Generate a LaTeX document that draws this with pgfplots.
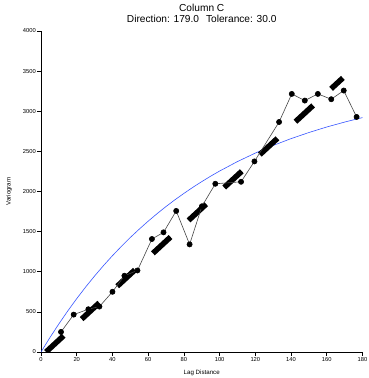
\documentclass[border=0pt]{standalone}
\usepackage{pgfplots}
\pgfplotsset{compat=1.18}
\usepackage{fontspec}
\setmainfont{Liberation Sans}
\definecolor{modelblue}{RGB}{55,85,255}
\definecolor{datagray}{RGB}{70,70,70}
\begin{document}
\begin{tikzpicture}
\begin{axis}[
  at={(41bp,26bp)}, anchor=south west,
  scale only axis, width=321.5bp, height=321bp,
  xmin=0, xmax=180, ymin=0, ymax=4000,
  axis x line=bottom, axis y line=left,
  axis line style={-, line width=0.7bp},
  tick align=outside, major tick length=4bp,
  tick style={line width=0.7bp, black},
  xtick={0,20,...,180}, ytick={0,500,...,4000},
  minor tick num=0,
  /pgf/number format/assume math mode=true,
  /pgf/number format/1000 sep={},
  tick label style={font=\fontsize{5.8}{6}\selectfont},
  yticklabel style={inner sep=1bp},
  xticklabel style={inner sep=1.5bp},
  xlabel={Lag Distance}, ylabel={Variogram},
  label style={font=\fontsize{6.2}{7}\selectfont},
  xlabel style={at={(axis description cs:0.5,-0.0654)}, anchor=center},
  ylabel style={at={(axis description cs:-0.0995,0.5)}, anchor=center},
  title={Column C\\Direction: 179.0\hspace{7bp}Tolerance: 30.0},
  title style={at={(axis description cs:0.5,1)}, anchor=south, align=center, inner sep=0pt, yshift=2.5bp, font=\fontsize{10.2}{11}\selectfont},
  clip=true,
]
% fitted model curve (blue)
\addplot[modelblue, line width=0.6bp] coordinates {
(0,0) (5,180) (10,350) (15,512) (20,665) (25,810) (30,947) (35,1077) (40,1200)
(45,1316) (50,1427) (55,1531) (60,1630) (65,1724) (70,1813) (75,1897) (80,1976)
(85,2052) (90,2123) (95,2191) (100,2255) (110,2373) (120,2479) (130,2574)
(140,2659) (150,2735) (160,2804) (170,2865) (180,2921)
};
% linear model (thick dashed)
\addplot[black, line width=5.5bp, dash pattern=on 24bp off 24.5bp, line cap=butt] coordinates {
(2.8,0) (169,3415)
};
% experimental variogram
\addplot[datagray, line width=0.6bp, mark=*, mark size=2.6bp, mark options={fill=black, draw=black, solid}] coordinates {
(11.2,250) (18.3,466) (26.5,533) (32.7,566) (40,750) (46.7,950) (54,1016)
(62.1,1408) (68.6,1491) (75.7,1758) (83.2,1341) (90.1,1816) (97.6,2096)
(112,2121) (119.5,2375) (133.3,2866) (140.4,3216) (147.7,3133) (155,3216)
(162.5,3150) (169.5,3258) (176.7,2929)
};
\end{axis}
\pgfresetboundingbox
\path (0,0) rectangle (369bp,378bp);
\end{tikzpicture}
\end{document}
